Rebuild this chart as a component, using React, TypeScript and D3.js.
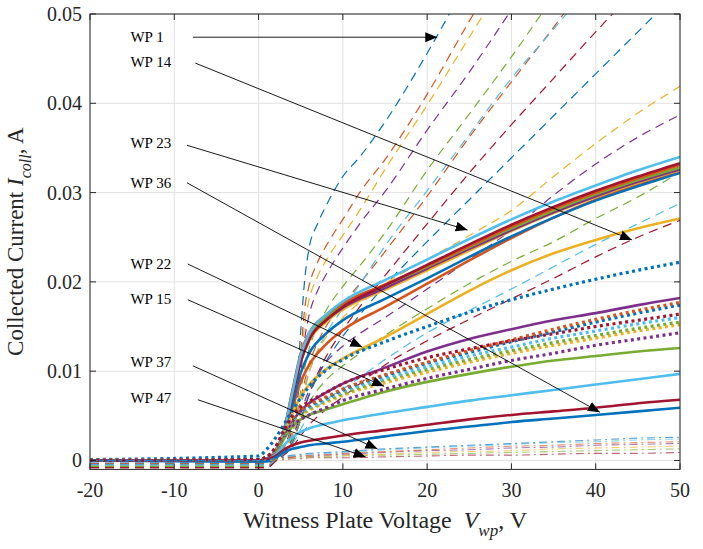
import * as d3 from 'd3';

// voltage grids (V)
const volts = [-20, 0, 1, 2, 3, 4, 5, 6, 8, 10, 15, 20, 25, 30, 35, 40, 45, 50];
const voltsFine = [-20, 0, 1, 2, 3, 4, 4.5, 5, 5.5, 6, 7, 8, 10, 12, 15, 20, 25, 30, 35, 40, 45, 50];

const xTicks = [-20, -10, 0, 10, 20, 30, 40, 50];
const yTicks = [0, 0.01, 0.02, 0.03, 0.04, 0.05];
const yTickLabels = ['0', '0.01', '0.02', '0.03', '0.04', '0.05'];

// dashed curves (on voltsFine), values above 0.05 run off the top
const dashBlue1 = [-0.0003, -0.0003, -0.0003, 0.0002, 0.0015, 0.0045, 0.008, 0.0145, 0.0205, 0.0238, 0.0265, 0.0285, 0.0318, 0.034, 0.0379, 0.0456, 0.054, 0.062, 0.07, 0.078, 0.086, 0.094];
const dashOrange1 = [-0.0004, -0.0004, -0.0004, 0.0002, 0.0014, 0.004, 0.007, 0.012, 0.0172, 0.0196, 0.0222, 0.024, 0.027, 0.03, 0.0337, 0.041, 0.0492, 0.057, 0.065, 0.073, 0.081, 0.089];
const dashYellow1 = [-0.0005, -0.0005, -0.0005, 0.0001, 0.0013, 0.0038, 0.0065, 0.011, 0.0155, 0.018, 0.0206, 0.0224, 0.0252, 0.028, 0.0326, 0.0398, 0.0474, 0.055, 0.063, 0.071, 0.079, 0.087];
const dashPurple1 = [-0.0006, -0.0006, -0.0006, 0.0001, 0.0012, 0.0035, 0.006, 0.0098, 0.0138, 0.0163, 0.019, 0.0208, 0.0238, 0.0265, 0.0301, 0.037, 0.0435, 0.0505, 0.058, 0.066, 0.074, 0.082];
const dashGreen1 = [-0.0007, -0.0007, -0.0007, 0, 0.0011, 0.003, 0.005, 0.0078, 0.0105, 0.0125, 0.015, 0.0168, 0.0195, 0.0218, 0.0255, 0.0325, 0.0388, 0.0452, 0.052, 0.059, 0.066, 0.073];
const dashOrange2 = [-0.0004, -0.0004, -0.0004, 0.0001, 0.001, 0.0028, 0.0045, 0.0068, 0.009, 0.0108, 0.0132, 0.015, 0.0175, 0.0198, 0.0234, 0.0296, 0.0362, 0.0424, 0.0485, 0.055, 0.062, 0.069];
const dashLightBlue1 = [-0.0006, -0.0006, -0.0006, 0, 0.001, 0.0025, 0.004, 0.006, 0.008, 0.0098, 0.0123, 0.0142, 0.017, 0.0197, 0.024, 0.0302, 0.0365, 0.0428, 0.0483, 0.054, 0.06, 0.066];
const dashRed1 = [-0.0008, -0.0008, -0.0008, -0.0001, 0.0008, 0.002, 0.0032, 0.0046, 0.006, 0.0074, 0.0097, 0.0116, 0.0146, 0.0172, 0.0207, 0.0265, 0.0322, 0.0376, 0.0428, 0.048, 0.053, 0.058];
const dashBlue2 = [-0.0005, -0.0005, -0.0005, 0, 0.0008, 0.002, 0.0032, 0.0046, 0.006, 0.0073, 0.0094, 0.0111, 0.0139, 0.0163, 0.0196, 0.0245, 0.0292, 0.0339, 0.0386, 0.0433, 0.048, 0.0527];
const dashYellow2 = [-0.0006, -0.0006, -0.0006, 0, 0.001, 0.0028, 0.0045, 0.0065, 0.0084, 0.01, 0.0122, 0.0138, 0.016, 0.0177, 0.0198, 0.0225, 0.0252, 0.028, 0.0318, 0.0355, 0.0389, 0.0419];
const dashPurple2 = [-0.0007, -0.0007, -0.0007, 0, 0.0009, 0.0024, 0.0037, 0.0052, 0.0067, 0.0079, 0.0097, 0.011, 0.0128, 0.0142, 0.016, 0.0192, 0.0225, 0.0258, 0.0297, 0.0332, 0.0362, 0.0387];
const dashGreen2 = [-0.0007, -0.0007, -0.0007, 0, 0.0008, 0.0022, 0.0033, 0.0045, 0.0056, 0.0065, 0.0079, 0.009, 0.0106, 0.012, 0.014, 0.017, 0.0198, 0.0223, 0.0245, 0.0271, 0.0295, 0.0323];
const dashLightBlue2 = [-0.0005, -0.0005, -0.0005, 0, 0.0007, 0.0018, 0.0026, 0.0035, 0.0043, 0.005, 0.006, 0.0068, 0.008, 0.0093, 0.0113, 0.0143, 0.0168, 0.0192, 0.0217, 0.0242, 0.0265, 0.0288];
const dashRed2 = [-0.0008, -0.0008, -0.0008, -0.0001, 0.0006, 0.0015, 0.0021, 0.0028, 0.0034, 0.004, 0.0049, 0.0057, 0.0071, 0.0086, 0.0107, 0.0134, 0.0158, 0.0181, 0.0204, 0.0228, 0.025, 0.0269];

// solid curves (on volts)
const solidLightBlue1 = [0, 0, 0.0002, 0.001, 0.0032, 0.0075, 0.0118, 0.0142, 0.0163, 0.0178, 0.0202, 0.0225, 0.0248, 0.027, 0.029, 0.0308, 0.0325, 0.034];
const solidRed1 = [0, 0, 0.0002, 0.001, 0.003, 0.007, 0.011, 0.0135, 0.0157, 0.0172, 0.0196, 0.0219, 0.0242, 0.0264, 0.0284, 0.0302, 0.0318, 0.0333];
const solidOrange1 = [0, 0, 0.0002, 0.0011, 0.0034, 0.0078, 0.012, 0.0143, 0.0163, 0.0176, 0.0197, 0.0218, 0.024, 0.0262, 0.0282, 0.03, 0.0316, 0.0331];
const solidGreen1 = [0, 0, 0.0002, 0.001, 0.0033, 0.0076, 0.0117, 0.014, 0.016, 0.0174, 0.0196, 0.0217, 0.0239, 0.026, 0.028, 0.0298, 0.0314, 0.0328];
const solidPurple1 = [0, 0, 0.0002, 0.001, 0.0033, 0.0074, 0.0114, 0.0137, 0.0157, 0.0171, 0.0193, 0.0215, 0.0237, 0.0258, 0.0278, 0.0296, 0.0312, 0.0326];
const solidYellow1 = [0, 0, 0.0002, 0.001, 0.0032, 0.0072, 0.0111, 0.0134, 0.0155, 0.0169, 0.0191, 0.0213, 0.0235, 0.0257, 0.0277, 0.0295, 0.0311, 0.0325];
const solidBlue1 = [0, -0.0001, 0, 0.0008, 0.0027, 0.0062, 0.0098, 0.012, 0.0142, 0.0157, 0.0181, 0.0204, 0.0228, 0.0251, 0.0272, 0.0291, 0.0307, 0.0322];
const solidOrange2 = [0, 0, 0.0001, 0.0008, 0.0026, 0.0058, 0.0088, 0.0107, 0.013, 0.0146, 0.0172, 0.0198, 0.0224, 0.0249, 0.0272, 0.0292, 0.0309, 0.0324];
const solidYellow2 = [0, 0, 0.0002, 0.0009, 0.0028, 0.0052, 0.0072, 0.0085, 0.0102, 0.0114, 0.0138, 0.0164, 0.019, 0.0213, 0.0232, 0.0247, 0.026, 0.0271];
const solidPurple2 = [0, 0, 0.0002, 0.0008, 0.0026, 0.0043, 0.0056, 0.0064, 0.0076, 0.0086, 0.0104, 0.0122, 0.0136, 0.0147, 0.0157, 0.0165, 0.0174, 0.0182];
const solidGreen2 = [0, 0, 0.0001, 0.0007, 0.0024, 0.0038, 0.0046, 0.0051, 0.0057, 0.0063, 0.0077, 0.0088, 0.0097, 0.0105, 0.0112, 0.0117, 0.0122, 0.0126];
const solidLightBlue2 = [0, 0, 0.0001, 0.0006, 0.0017, 0.0026, 0.0032, 0.0036, 0.0041, 0.0045, 0.0053, 0.006, 0.0067, 0.0073, 0.0079, 0.0085, 0.0091, 0.0097];
const solidRed2 = [0, 0, 0.0001, 0.0005, 0.0012, 0.0017, 0.002, 0.0022, 0.0025, 0.0028, 0.0034, 0.004, 0.0046, 0.0051, 0.0055, 0.0059, 0.0064, 0.0068];
const solidBlue2 = [0, -0.0001, -0.0001, 0.0003, 0.0009, 0.0013, 0.0015, 0.0017, 0.0019, 0.0021, 0.0027, 0.0033, 0.0038, 0.0043, 0.0047, 0.0051, 0.0055, 0.0059];

// dotted curves (on volts)
const dotBlue1 = [0.0001, 0.0005, 0.0013, 0.0025, 0.004, 0.0056, 0.007, 0.0083, 0.0101, 0.0113, 0.0133, 0.015, 0.0166, 0.018, 0.0192, 0.0203, 0.0213, 0.0222];
const dotRed = [0, 0.0001, 0.0004, 0.0015, 0.0034, 0.005, 0.006, 0.0066, 0.0076, 0.0086, 0.0102, 0.0115, 0.0125, 0.0134, 0.0142, 0.015, 0.0157, 0.0164];
const dotOrange = [0, 0.0001, 0.0004, 0.0014, 0.0032, 0.0047, 0.0056, 0.0062, 0.0071, 0.008, 0.0096, 0.011, 0.0123, 0.0135, 0.0147, 0.0158, 0.0168, 0.0177];
const dotBlue2 = [0, 0.0001, 0.0004, 0.0014, 0.0031, 0.0046, 0.0055, 0.0061, 0.007, 0.0079, 0.0095, 0.0109, 0.0121, 0.0133, 0.0144, 0.0155, 0.0165, 0.0174];
const dotLightBlue = [0, 0.0001, 0.0004, 0.0013, 0.003, 0.0045, 0.0054, 0.0059, 0.0068, 0.0077, 0.0092, 0.0105, 0.0117, 0.0127, 0.0137, 0.0145, 0.0153, 0.016];
const dotGreen = [0, 0.0001, 0.0004, 0.0013, 0.0029, 0.0044, 0.0053, 0.0058, 0.0067, 0.0075, 0.009, 0.0102, 0.0113, 0.0123, 0.0132, 0.014, 0.0148, 0.0155];
const dotYellow = [0, 0.0001, 0.0004, 0.0013, 0.0029, 0.0043, 0.0051, 0.0056, 0.0065, 0.0073, 0.0087, 0.0099, 0.011, 0.012, 0.0129, 0.0137, 0.0145, 0.0152];
const dotPurple = [0, 0.0001, 0.0003, 0.0012, 0.0027, 0.0039, 0.0046, 0.0051, 0.0059, 0.0067, 0.008, 0.0092, 0.0102, 0.0112, 0.012, 0.0129, 0.0136, 0.0143];

// dash-dot curves (on volts)
const ddBlue = [0, 0, 0.0001, 0.0002, 0.0004, 0.0006, 0.0007, 0.0008, 0.0009, 0.001, 0.0013, 0.0015, 0.0017, 0.0019, 0.0021, 0.0023, 0.0025, 0.0026];
const ddLightBlue = [0, 0, 0.0001, 0.0002, 0.0004, 0.0005, 0.0006, 0.0007, 0.0008, 0.0009, 0.0012, 0.0014, 0.0016, 0.0018, 0.002, 0.0021, 0.0023, 0.0024];
const ddOrange = [0, 0, 0.0001, 0.0002, 0.0003, 0.0004, 0.0005, 0.0006, 0.0007, 0.0008, 0.001, 0.0012, 0.0014, 0.0016, 0.0017, 0.0019, 0.002, 0.0021];
const ddPurple = [0, 0, 0.0001, 0.0002, 0.0003, 0.0004, 0.0005, 0.0005, 0.0006, 0.0007, 0.0009, 0.0011, 0.0012, 0.0014, 0.0015, 0.0017, 0.0018, 0.0019];
const ddYellow = [0, 0, 0, 0.0001, 0.0002, 0.0003, 0.0004, 0.0004, 0.0005, 0.0006, 0.0007, 0.0009, 0.001, 0.0011, 0.0013, 0.0014, 0.0015, 0.0016];
const ddGreen = [0, 0, 0, 0.0001, 0.0002, 0.0003, 0.0003, 0.0004, 0.0004, 0.0005, 0.0006, 0.0007, 0.0008, 0.0009, 0.001, 0.0011, 0.0012, 0.0013];
const ddRed = [0, 0, 0, 0.0001, 0.0001, 0.0002, 0.0002, 0.0003, 0.0003, 0.0003, 0.0004, 0.0005, 0.0006, 0.0006, 0.0007, 0.0008, 0.0008, 0.0009];

// annotation labels: text, line start (x, y), arrow tip (x, y)
const wpLabels = ['WP 1', 'WP 14', 'WP 23', 'WP 36', 'WP 22', 'WP 15', 'WP 37', 'WP 47'];
const wpStart = [[-7.8, 0.0474], [-7.5, 0.0445], [-8.5, 0.0353], [-8.5, 0.0311], [-8.4, 0.022], [-8.4, 0.018], [-7.8, 0.0106], [-7.2, 0.0068]];
const wpTip = [[21.2, 0.0474], [44.3, 0.0247], [24.8, 0.0258], [40.5, 0.0054], [12.3, 0.0127], [14.9, 0.0083], [14.1, 0.0013], [12.7, 0.0004]];
const wpTextY = [0.0474, 0.0446, 0.0356, 0.0311, 0.022, 0.0181, 0.011, 0.007];

const BLUE = '#0072BD';
const ORANGE = '#D95319';
const YELLOW = '#EDB120';
const PURPLE = '#7E2F8E';
const GREEN = '#77AC30';
const LIGHTBLUE = '#4DBEEE';
const RED = '#A2142F';

const DASH = { width: 1.2, dash: '9,6', opacity: 1 };
const SOLID = { width: 2.6, dash: null, opacity: 1 };
const DOT = { width: 3.2, dash: '3,3.4', opacity: 1 };
const DASHDOT = { width: 1.1, dash: '8,4,2,4', opacity: 0.65 };

const series = [
  [voltsFine, dashBlue1, BLUE, DASH],
  [voltsFine, dashOrange1, ORANGE, DASH],
  [voltsFine, dashYellow1, YELLOW, DASH],
  [voltsFine, dashPurple1, PURPLE, DASH],
  [voltsFine, dashGreen1, GREEN, DASH],
  [voltsFine, dashOrange2, ORANGE, DASH],
  [voltsFine, dashLightBlue1, LIGHTBLUE, DASH],
  [voltsFine, dashRed1, RED, DASH],
  [voltsFine, dashBlue2, BLUE, DASH],
  [voltsFine, dashYellow2, YELLOW, DASH],
  [voltsFine, dashPurple2, PURPLE, DASH],
  [voltsFine, dashGreen2, GREEN, DASH],
  [voltsFine, dashLightBlue2, LIGHTBLUE, DASH],
  [voltsFine, dashRed2, RED, DASH],
  [volts, solidOrange2, ORANGE, SOLID],
  [volts, solidBlue1, BLUE, SOLID],
  [volts, solidYellow1, YELLOW, SOLID],
  [volts, solidPurple1, PURPLE, SOLID],
  [volts, solidGreen1, GREEN, SOLID],
  [volts, solidOrange1, ORANGE, SOLID],
  [volts, solidRed1, RED, SOLID],
  [volts, solidLightBlue1, LIGHTBLUE, SOLID],
  [volts, solidYellow2, YELLOW, SOLID],
  [volts, solidPurple2, PURPLE, SOLID],
  [volts, solidGreen2, GREEN, SOLID],
  [volts, solidLightBlue2, LIGHTBLUE, SOLID],
  [volts, solidRed2, RED, SOLID],
  [volts, solidBlue2, BLUE, SOLID],
  [volts, dotBlue1, BLUE, DOT],
  [volts, dotPurple, PURPLE, DOT],
  [volts, dotYellow, YELLOW, DOT],
  [volts, dotGreen, GREEN, DOT],
  [volts, dotLightBlue, LIGHTBLUE, DOT],
  [volts, dotBlue2, BLUE, DOT],
  [volts, dotOrange, ORANGE, DOT],
  [volts, dotRed, RED, DOT],
  [volts, ddRed, RED, DASHDOT],
  [volts, ddGreen, GREEN, DASHDOT],
  [volts, ddYellow, YELLOW, DASHDOT],
  [volts, ddPurple, PURPLE, DASHDOT],
  [volts, ddOrange, ORANGE, DASHDOT],
  [volts, ddLightBlue, LIGHTBLUE, DASHDOT],
  [volts, ddBlue, BLUE, DASHDOT],
] as const;

const SERIF = { fontFamily: "'Liberation Serif', 'Times New Roman', serif" };
const AXIS = '#262626';

export default function App() {
  const width = 703;
  const height = 549;
  const left = 90, right = 680, top = 14, bottom = 469.4;

  const x = d3.scaleLinear().domain([-20, 50]).range([left, right]);
  const y = d3.scaleLinear().domain([-0.001, 0.05]).range([bottom, top]);

  const line = (xs: readonly number[], ys: readonly number[]) =>
    d3
      .line<number>()
      .x((_, i) => x(xs[i]))
      .y((d) => y(d))
      .curve(d3.curveMonotoneX)(ys as number[]);

  return (
    <svg
      width={width}
      height={height}
      style={{ position: 'absolute', left: 0, top: 0, background: '#fff' }}
    >
      <defs>
        <clipPath id="plot">
          <rect x={left} y={top} width={right - left} height={bottom - top} />
        </clipPath>
        <marker
          id="head"
          markerUnits="userSpaceOnUse"
          markerWidth={13}
          markerHeight={11}
          refX={12}
          refY={5}
          orient="auto"
        >
          <path d="M0,0 L12,5 L0,10 Z" fill="#000" />
        </marker>
      </defs>
      <rect x={left} y={top} width={right - left} height={bottom - top} fill="#fff" />

      {/* grid */}
      {xTicks.map((t) => (
        <line key={'gx' + t} x1={x(t)} x2={x(t)} y1={top} y2={bottom} stroke="#e2e2e2" strokeWidth={1} />
      ))}
      {yTicks.map((t) => (
        <line key={'gy' + t} x1={left} x2={right} y1={y(t)} y2={y(t)} stroke="#e2e2e2" strokeWidth={1} />
      ))}

      <g clipPath="url(#plot)" fill="none">
        {series.map(([xs, ys, color, st], i) => (
          <path
            key={i}
            d={line(xs, ys) ?? ''}
            stroke={color}
            strokeWidth={st.width}
            strokeDasharray={st.dash ?? undefined}
            strokeOpacity={st.opacity}
          />
        ))}
      </g>

      {/* box and ticks */}
      <rect x={left} y={top} width={right - left} height={bottom - top} fill="none" stroke={AXIS} strokeWidth={1} />
      {xTicks.map((t) => (
        <g key={'tx' + t}>
          <line x1={x(t)} x2={x(t)} y1={bottom} y2={bottom - 6} stroke={AXIS} />
          <line x1={x(t)} x2={x(t)} y1={top} y2={top + 6} stroke={AXIS} />
          <text x={x(t)} y={bottom + 28} textAnchor="middle" fontSize={20} fill={AXIS} style={SERIF}>
            {t}
          </text>
        </g>
      ))}
      {yTicks.map((t, i) => (
        <g key={'ty' + t}>
          <line x1={left} x2={left + 6} y1={y(t)} y2={y(t)} stroke={AXIS} />
          <line x1={right} x2={right - 6} y1={y(t)} y2={y(t)} stroke={AXIS} />
          <text x={left - 8} y={y(t) + 7} textAnchor="end" fontSize={20} fill={AXIS} style={SERIF}>
            {yTickLabels[i]}
          </text>
        </g>
      ))}

      {/* annotations */}
      {wpLabels.map((label, i) => (
        <g key={label}>
          <line
            x1={x(wpStart[i][0])}
            y1={y(wpStart[i][1])}
            x2={x(wpTip[i][0])}
            y2={y(wpTip[i][1])}
            stroke="#000"
            strokeWidth={0.9}
            markerEnd="url(#head)"
          />
          <text x={x(-15.2)} y={y(wpTextY[i]) + 5} fontSize={15} fill="#000" style={SERIF}>
            {label}
          </text>
        </g>
      ))}

      {/* axis labels */}
      <text x={(left + right) / 2} y={528} textAnchor="middle" fontSize={24} fill={AXIS} style={SERIF}>
        Witness Plate Voltage{'\u00a0\u00a0'}
        <tspan fontStyle="italic">V</tspan>
        <tspan fontStyle="italic" fontSize={17} dy={8}>wp</tspan>
        <tspan dy={-8}>, V</tspan>
      </text>
      <text
        transform={`translate(23, ${(top + bottom) / 2}) rotate(-90)`}
        textAnchor="middle"
        fontSize={23}
        fill={AXIS}
        style={SERIF}
      >
        Collected Current{' '}
        <tspan fontStyle="italic">I</tspan>
        <tspan fontStyle="italic" fontSize={16} dy={8}>coll</tspan>
        <tspan dy={-8}>, A</tspan>
      </text>
    </svg>
  );
}
